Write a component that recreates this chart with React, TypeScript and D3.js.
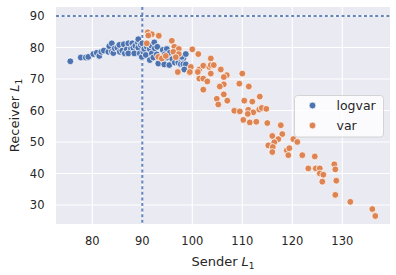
import React from "react";
import * as d3 from "d3";

// [sender L1, receiver L1]
const logvarPoints: [number, number][] = [
  [75.6, 75.6], [77.7, 76.8], [78.7, 76.8], [79.2, 77.0], [80.2, 77.9],
  [80.9, 78.3], [81.4, 77.3], [81.8, 78.6], [82.3, 79.0], [83.2, 78.6],
  [83.4, 80.4], [83.9, 81.3], [83.9, 78.6], [84.2, 78.2], [84.5, 79.7],
  [85.0, 79.9], [85.4, 80.8], [85.5, 78.6], [86.0, 79.0], [86.3, 81.0],
  [86.5, 78.1], [86.9, 79.4], [87.2, 81.3], [87.7, 79.5], [87.2, 78.1],
  [88.0, 81.3], [88.2, 79.9], [88.4, 78.1], [88.6, 80.5], [89.1, 81.6],
  [89.2, 82.6], [89.2, 79.9], [89.5, 78.1], [89.7, 80.8], [89.9, 77.0],
  [90.0, 81.3], [90.2, 78.6], [90.4, 79.5], [90.7, 77.6], [90.9, 80.2],
  [91.5, 76.0], [91.5, 79.5], [91.8, 80.6], [91.9, 78.1], [92.4, 81.6],
  [92.5, 79.7], [92.2, 76.8], [92.9, 77.8], [93.0, 80.2], [93.2, 74.9],
  [94.1, 79.2], [94.9, 79.5], [94.5, 77.8], [94.2, 76.0], [94.4, 74.6],
  [95.0, 76.8], [95.4, 74.4], [95.5, 78.3], [96.0, 76.3], [96.5, 75.2],
  [97.2, 75.2], [97.7, 76.5], [98.2, 76.5], [97.9, 77.0], [97.7, 74.7],
  [98.2, 74.7], [98.7, 74.6], [98.4, 73.0], [98.7, 77.9],
];

const varPoints: [number, number][] = [
  [91.1, 84.8], [91.9, 84.2], [91.2, 83.8], [93.3, 83.7], [90.9, 81.3],
  [95.9, 82.1], [96.4, 80.2], [97.3, 79.5], [96.2, 78.6], [97.3, 77.9],
  [96.7, 76.9], [93.2, 77.0], [93.9, 76.5], [94.7, 77.3], [97.1, 72.2],
  [99.4, 72.0], [100.0, 79.4], [101.2, 77.9], [99.7, 73.8], [99.5, 72.2],
  [101.4, 73.0], [101.1, 72.2], [102.2, 74.2], [103.4, 73.8], [103.7, 76.5],
  [103.7, 74.4], [104.3, 74.4], [103.7, 71.7], [101.4, 70.1], [102.2, 70.1],
  [103.0, 69.2], [102.2, 66.6], [105.7, 73.0], [106.9, 71.2], [106.3, 70.6],
  [110.0, 71.7], [106.3, 68.3], [105.5, 67.6], [109.4, 68.5], [111.3, 67.6],
  [106.3, 65.1], [107.0, 63.1], [104.9, 63.7], [105.2, 61.9], [110.4, 63.1],
  [112.0, 62.8], [113.5, 64.4], [108.4, 59.9], [109.5, 59.7], [111.2, 60.2],
  [112.2, 59.4], [113.4, 60.3], [113.9, 60.8], [114.8, 60.5], [110.2, 57.0],
  [111.5, 56.2], [112.8, 56.4], [115.0, 56.0], [111.1, 58.9], [117.7, 55.3],
  [116.0, 51.9], [118.0, 52.5], [117.2, 50.9], [120.2, 50.9], [121.0, 50.0],
  [116.4, 49.9], [115.2, 48.9], [116.1, 48.4], [116.0, 46.8], [118.9, 47.3],
  [119.4, 48.0], [119.2, 45.8], [122.0, 45.8], [124.5, 45.4], [123.2, 41.6],
  [124.7, 41.6], [125.5, 41.6], [125.5, 40.0], [126.2, 39.6], [126.0, 37.4],
  [128.4, 42.9], [128.6, 41.3], [128.8, 37.7], [128.6, 33.2], [131.6, 31.0],
  [136.0, 28.7], [136.6, 26.5],
];

const xTicks = [80, 90, 100, 110, 120, 130];
const yTicks = [30, 40, 50, 60, 70, 80, 90];
const refValue = 90;
const seriesNames = ["logvar", "var"];
const seriesColors = ["#4C72B0", "#DD8452"];

const W = 396;
const H = 275;
const plot = { left: 56, right: 390, top: 7, bottom: 224 };
const font = "DejaVu Sans, sans-serif";
const ink = "#262626";

const App = () => {
  const x = d3.scaleLinear().domain([72.74, 139.54]).range([plot.left, plot.right]);
  const y = d3.scaleLinear().domain([23.96, 92.83]).range([plot.bottom, plot.top]);

  const series = [logvarPoints, varPoints];

  return (
    <svg
      width={W}
      height={H}
      style={{ position: "fixed", left: 0, top: 0, background: "#ffffff" }}
    >
      <rect
        x={plot.left}
        y={plot.top}
        width={plot.right - plot.left}
        height={plot.bottom - plot.top}
        fill="#EAEAF2"
      />

      {/* grid */}
      {xTicks.map(t => (
        <line key={"gx" + t} x1={x(t)} x2={x(t)} y1={plot.top} y2={plot.bottom}
          stroke="#fff" strokeWidth={1.1} />
      ))}
      {yTicks.map(t => (
        <line key={"gy" + t} y1={y(t)} y2={y(t)} x1={plot.left} x2={plot.right}
          stroke="#fff" strokeWidth={1.1} />
      ))}

      {/* reference lines */}
      <line x1={plot.left} x2={plot.right} y1={y(refValue)} y2={y(refValue)}
        stroke="#4C72B0" strokeOpacity={0.85} strokeWidth={2} strokeDasharray="3,2.6" />
      <line x1={x(refValue)} x2={x(refValue)} y1={plot.top} y2={plot.bottom}
        stroke="#4C72B0" strokeOpacity={0.85} strokeWidth={2} strokeDasharray="3,2.6" />

      {/* points */}
      {series.map((pts, si) => (
        <g key={seriesNames[si]}>
          {pts.map((p, i) => (
            <circle key={i} cx={x(p[0])} cy={y(p[1])} r={3.4}
              fill={seriesColors[si]} stroke="#fff" strokeWidth={0.75} />
          ))}
        </g>
      ))}

      {/* tick labels */}
      {xTicks.map(t => (
        <text key={"tx" + t} x={x(t)} y={245} textAnchor="middle"
          fontFamily={font} fontSize={11.5} fill={ink}>{t}</text>
      ))}
      {yTicks.map(t => (
        <text key={"ty" + t} x={44.5} y={y(t)} dy="0.36em" textAnchor="end"
          fontFamily={font} fontSize={11.5} fill={ink}>{t}</text>
      ))}

      {/* axis labels */}
      <text x={(plot.left + plot.right) / 2} y={266} textAnchor="middle"
        fontFamily={font} fontSize={13} fill={ink}>
        Sender <tspan fontStyle="italic">L</tspan>
        <tspan fontSize={9} dy={3}>1</tspan>
      </text>
      <text transform={`translate(19,${(plot.top + plot.bottom) / 2}) rotate(-90)`}
        textAnchor="middle" fontFamily={font} fontSize={13} fill={ink}>
        Receiver <tspan fontStyle="italic">L</tspan>
        <tspan fontSize={9} dy={3}>1</tspan>
      </text>

      {/* legend */}
      <rect x={294.5} y={95.5} width={89} height={41.5} rx={3}
        fill="#ffffff" fillOpacity={0.8} stroke="#cccccc" strokeWidth={0.8} />
      {seriesNames.map((name, i) => (
        <g key={"lg" + name} transform={`translate(312.5,${105.5 + i * 20})`}>
          <circle r={3.4} fill={seriesColors[i]} stroke="#fff" strokeWidth={0.75} />
          <text x={24} dy="0.35em" fontFamily={font} fontSize={12.5} fill={ink}>{name}</text>
        </g>
      ))}
    </svg>
  );
};

export default App;
